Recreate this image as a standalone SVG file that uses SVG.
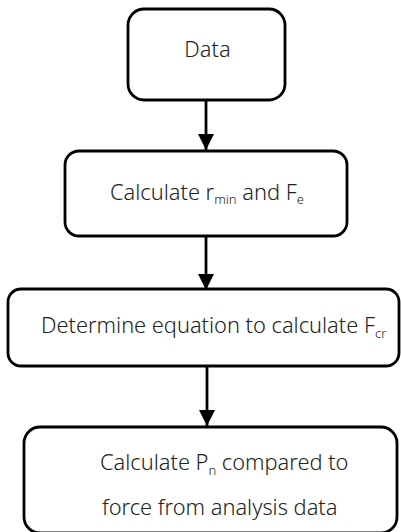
<svg xmlns="http://www.w3.org/2000/svg" width="401" height="532" viewBox="0 0 401 532">
<defs>
<marker id="ah" markerUnits="userSpaceOnUse" markerWidth="16" markerHeight="16" refX="16" refY="8" orient="auto">
<path d="M0,0 L16,8 L0,16 Z" fill="#000"/>
</marker>
<style>
.box{fill:#fff;stroke:#000;stroke-width:2.8}
.lbl{font-family:"Noto Sans","Open Sans",sans-serif;font-weight:300;font-size:21.8px;fill:#222}
.sub{font-size:13px}
.conn{stroke:#000;stroke-width:2.8;fill:none;marker-end:url(#ah)}
</style>
</defs>
<rect width="401" height="532" fill="#fff"/>
<g id="connectors">
<line class="conn" x1="206" y1="100" x2="206" y2="150"/>
<line class="conn" x1="206" y1="236" x2="206" y2="290"/>
<line class="conn" x1="207" y1="366" x2="207" y2="426"/>
</g>
<g id="n1">
<rect class="box" x="128" y="9" width="157" height="91" rx="16"/>
<text class="lbl" x="207.5" y="57" text-anchor="middle">Data</text>
</g>
<g id="n2">
<rect class="box" x="65" y="151" width="282" height="85" rx="14"/>
<text class="lbl" x="110" y="199.5">Calculate r<tspan class="sub" dy="4.5">min</tspan><tspan dy="-4.5"> and F</tspan><tspan class="sub" dy="4.5">e</tspan></text>
</g>
<g id="n3">
<rect class="box" x="8" y="289" width="391" height="77" rx="13"/>
<text class="lbl" x="41" y="333">Determine equation to calculate F<tspan class="sub" dy="4.5">cr</tspan></text>
</g>
<g id="n4">
<rect class="box" x="24" y="427" width="373" height="106" rx="16"/>
<text class="lbl" x="100" y="470">Calculate P<tspan class="sub" dy="4.5">n</tspan><tspan dy="-4.5"> compared to</tspan></text>
<text class="lbl" x="102" y="515">force from analysis data</text>
</g>
</svg>
